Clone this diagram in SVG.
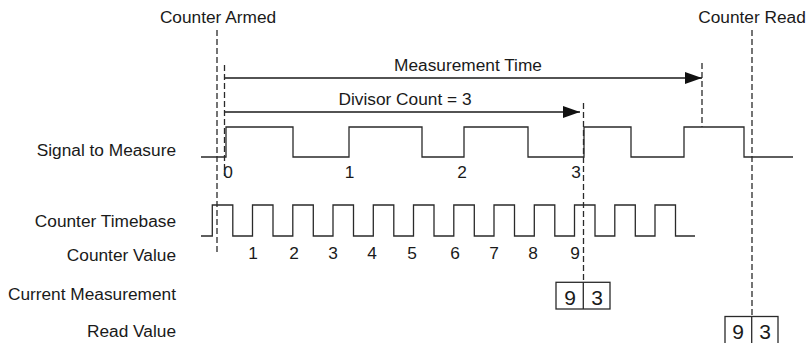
<svg xmlns="http://www.w3.org/2000/svg" width="812" height="343" viewBox="0 0 812 343">
<defs>
<style>
text{font-family:"Liberation Sans",Arial,sans-serif;font-size:17.3px;fill:#1a1a1a}
.r{text-anchor:end}
.m{text-anchor:middle}
.big{font-size:21px;text-anchor:middle}
.w{fill:none;stroke:#2a2a2a;stroke-width:1.3}
.d{fill:none;stroke:#2a2a2a;stroke-width:1.3;stroke-dasharray:6,3}
.a{fill:none;stroke:#1a1a1a;stroke-width:1.3}
.box{fill:#fff;stroke:#2a2a2a;stroke-width:1.3}
</style>
<marker id="ah" viewBox="0 0 17 12" refX="17" refY="6" markerWidth="17" markerHeight="12" markerUnits="userSpaceOnUse" orient="auto">
<path d="M0,0 L17,6 L0,12 Z" fill="#111"/>
</marker>
</defs>

<g id="labels">
<text x="218" y="22.5" class="m">Counter Armed</text>
<text x="752" y="23" class="m">Counter Read</text>
<text x="176" y="156" class="r">Signal to Measure</text>
<text x="176" y="227" class="r">Counter Timebase</text>
<text x="176" y="260.5" class="r">Counter Value</text>
<text x="176" y="300" class="r">Current Measurement</text>
<text x="176" y="337" class="r">Read Value</text>
</g>

<g id="signal">
<path class="w" d="M201,157 H226 V127 H293 V157 H349 V127 H422 V157 H464 V127 H528 V157 H584 V127 H631 V157 H684 V127 H744 V157 H793"/>
<text x="228" y="178" class="m">0</text>
<text x="349.5" y="178" class="m">1</text>
<text x="462" y="178" class="m">2</text>
<text x="576" y="178" class="m">3</text>
</g>

<g id="timebase">
<path class="w" d="M201,236 H212.3 V205 H232.8 V236 H252.5 V205 H273 V236 H292.8 V205 H313.3 V236 H333 V205 H353.5 V236 H373.3 V205 H393.8 V236 H413.5 V205 H434 V236 H453.8 V205 H474.3 V236 H494 V205 H514.5 V236 H534.3 V205 H554.8 V236 H574.5 V205 H595 V236 H614.8 V205 H635.3 V236 H655 V205 H675.5 V236 H695"/>
</g>

<g id="counter-values">
<text x="253" y="258.5" class="m">1</text>
<text x="294" y="258.5" class="m">2</text>
<text x="333" y="258.5" class="m">3</text>
<text x="372" y="258.5" class="m">4</text>
<text x="412" y="258.5" class="m">5</text>
<text x="455" y="258.5" class="m">6</text>
<text x="494" y="258.5" class="m">7</text>
<text x="533" y="258.5" class="m">8</text>
<text x="575" y="258.5" class="m">9</text>
</g>

<g id="connectors">
<line class="d" x1="217" y1="30" x2="217" y2="255"/>
<line class="d" x1="224.5" y1="65" x2="224.5" y2="176"/>
<line class="d" x1="583.5" y1="103" x2="583.5" y2="282"/>
<line class="d" x1="702" y1="63" x2="702" y2="127"/>
<line class="d" x1="752" y1="30" x2="752" y2="316"/>
<line class="a" x1="225" y1="78" x2="702" y2="78" marker-end="url(#ah)"/>
<line class="a" x1="225" y1="112" x2="580" y2="112" marker-end="url(#ah)"/>
</g>

<g id="arrow-labels">
<text x="468" y="70.5" class="m">Measurement Time</text>
<text x="405" y="104.5" class="m">Divisor Count = 3</text>
</g>

<g id="current-measurement">
<rect class="box" x="556" y="282.3" width="54" height="26.7"/>
<line class="w" x1="583.3" y1="282.3" x2="583.3" y2="309"/>
<text x="570" y="304.5" class="big">9</text>
<text x="597" y="304.5" class="big">3</text>
</g>

<g id="read-value">
<rect class="box" x="725" y="316.5" width="53" height="30"/>
<line class="w" x1="751.7" y1="316.5" x2="751.7" y2="346"/>
<text x="738" y="339" class="big">9</text>
<text x="765" y="339" class="big">3</text>
</g>
</svg>
